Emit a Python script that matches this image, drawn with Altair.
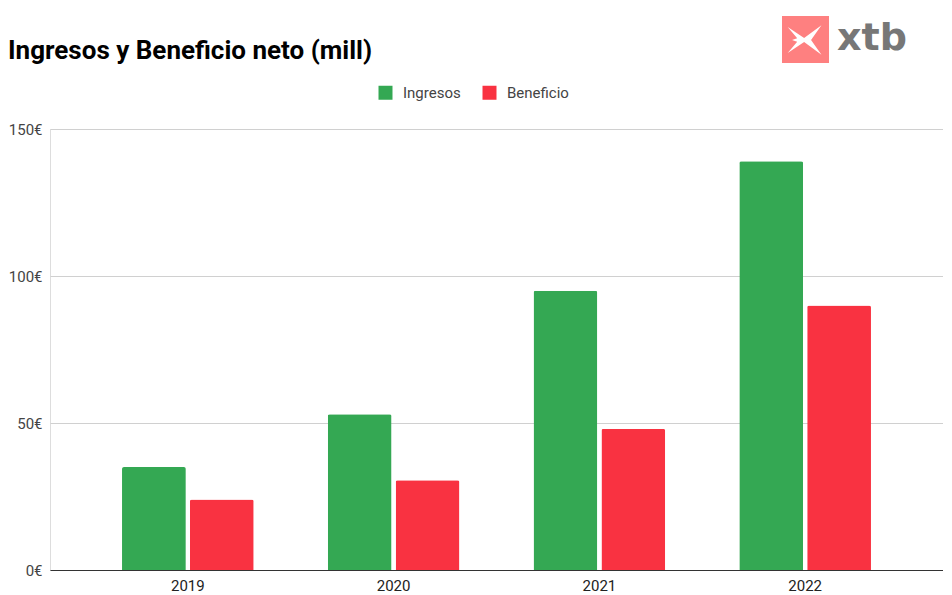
import altair as alt
import pandas as pd

years = ["2019", "2020", "2021", "2022"]
ingresos = [35, 53, 95, 139]
beneficio = [24, 30.5, 48, 90]
series = ["Ingresos", "Beneficio"]
colors = ["#34A853", "#F93241"]
title_text = "Ingresos y Beneficio neto (mill)"
y_ticks = [0, 50, 100, 150]

rows = []
for i, yr in enumerate(years):
    rows.append({"year": yr, "serie": "Ingresos", "value": ingresos[i]})
    rows.append({"year": yr, "serie": "Beneficio", "value": beneficio[i]})
df = pd.DataFrame(rows)

bars = alt.Chart(df).mark_bar(cornerRadiusTopLeft=2, cornerRadiusTopRight=2).encode(
    x=alt.X("year:N", sort=years,
            scale=alt.Scale(paddingInner=0.36, paddingOuter=0.35),
            axis=alt.Axis(title=None, labelAngle=0, ticks=False, domain=True,
                          domainColor="#333333", domainWidth=1, labelPadding=8,
                          labelFontSize=15, labelColor="#222222", grid=False)),
    xOffset=alt.XOffset("serie:N", sort=series,
                        scale=alt.Scale(paddingInner=0.06, paddingOuter=0)),
    y=alt.Y("value:Q", scale=alt.Scale(domain=[0, 150], nice=False),
            axis=alt.Axis(title=None, values=y_ticks, labelExpr="datum.value + '€'",
                          ticks=False, domain=False, labelPadding=8, labelFontSize=15,
                          labelColor="#444444", gridColor="#d0d0d0", gridWidth=1)),
    color=alt.Color("serie:N", sort=series,
                    scale=alt.Scale(domain=series, range=colors),
                    legend=alt.Legend(title=None, orient="none", legendX=328, legendY=-44,
                                      direction="horizontal", symbolType="square",
                                      symbolSize=196, symbolStrokeWidth=0,
                                      labelFontSize=15, labelColor="#444444",
                                      labelOffset=10, columnPadding=21, padding=0)),
)

title = alt.Chart(pd.DataFrame({"t": [title_text]})).mark_text(
    align="left", baseline="alphabetic", fontSize=26, fontWeight="bold",
    font="Roboto", color="#000000"
).encode(text="t:N", x=alt.value(-42), y=alt.value(-70))

logo_box = alt.Chart(pd.DataFrame({"a": [1]})).mark_rect(color="#FE8080").encode(
    x=alt.value(732), x2=alt.value(779), y=alt.value(-113), y2=alt.value(-66)
)

icon_path = "M -1,-0.75 L -0.05,-0.12 L 0.95,-0.85 L 0.35,0 L 0.95,0.85 L -0.05,0.12 L -1,0.75 L -0.45,0.1 L -0.75,0 L -0.45,-0.1 Z"
logo_icon = alt.Chart(pd.DataFrame({"a": [1]})).mark_point(
    shape=icon_path, filled=True, color="white", opacity=1, size=1200, strokeWidth=0
).encode(x=alt.value(755), y=alt.value(-89))

logo_text = alt.Chart(pd.DataFrame({"t": ["xtb"]})).mark_text(
    align="left", baseline="alphabetic", fontSize=38, fontWeight="bold",
    font="DejaVu Sans", color="#777777"
).encode(text="t:N", x=alt.value(787), y=alt.value(-79))

chart = alt.layer(bars, title, logo_box, logo_icon, logo_text).properties(
    width=893, height=441,
    autosize=alt.AutoSizeParams(type="none"),
    padding={"left": 42, "top": 121, "right": 0, "bottom": 25},
).configure_view(stroke="transparent", strokeWidth=0).configure(font="Roboto")

chart.save("out.html", embed_options={"renderer": "svg", "actions": False})
